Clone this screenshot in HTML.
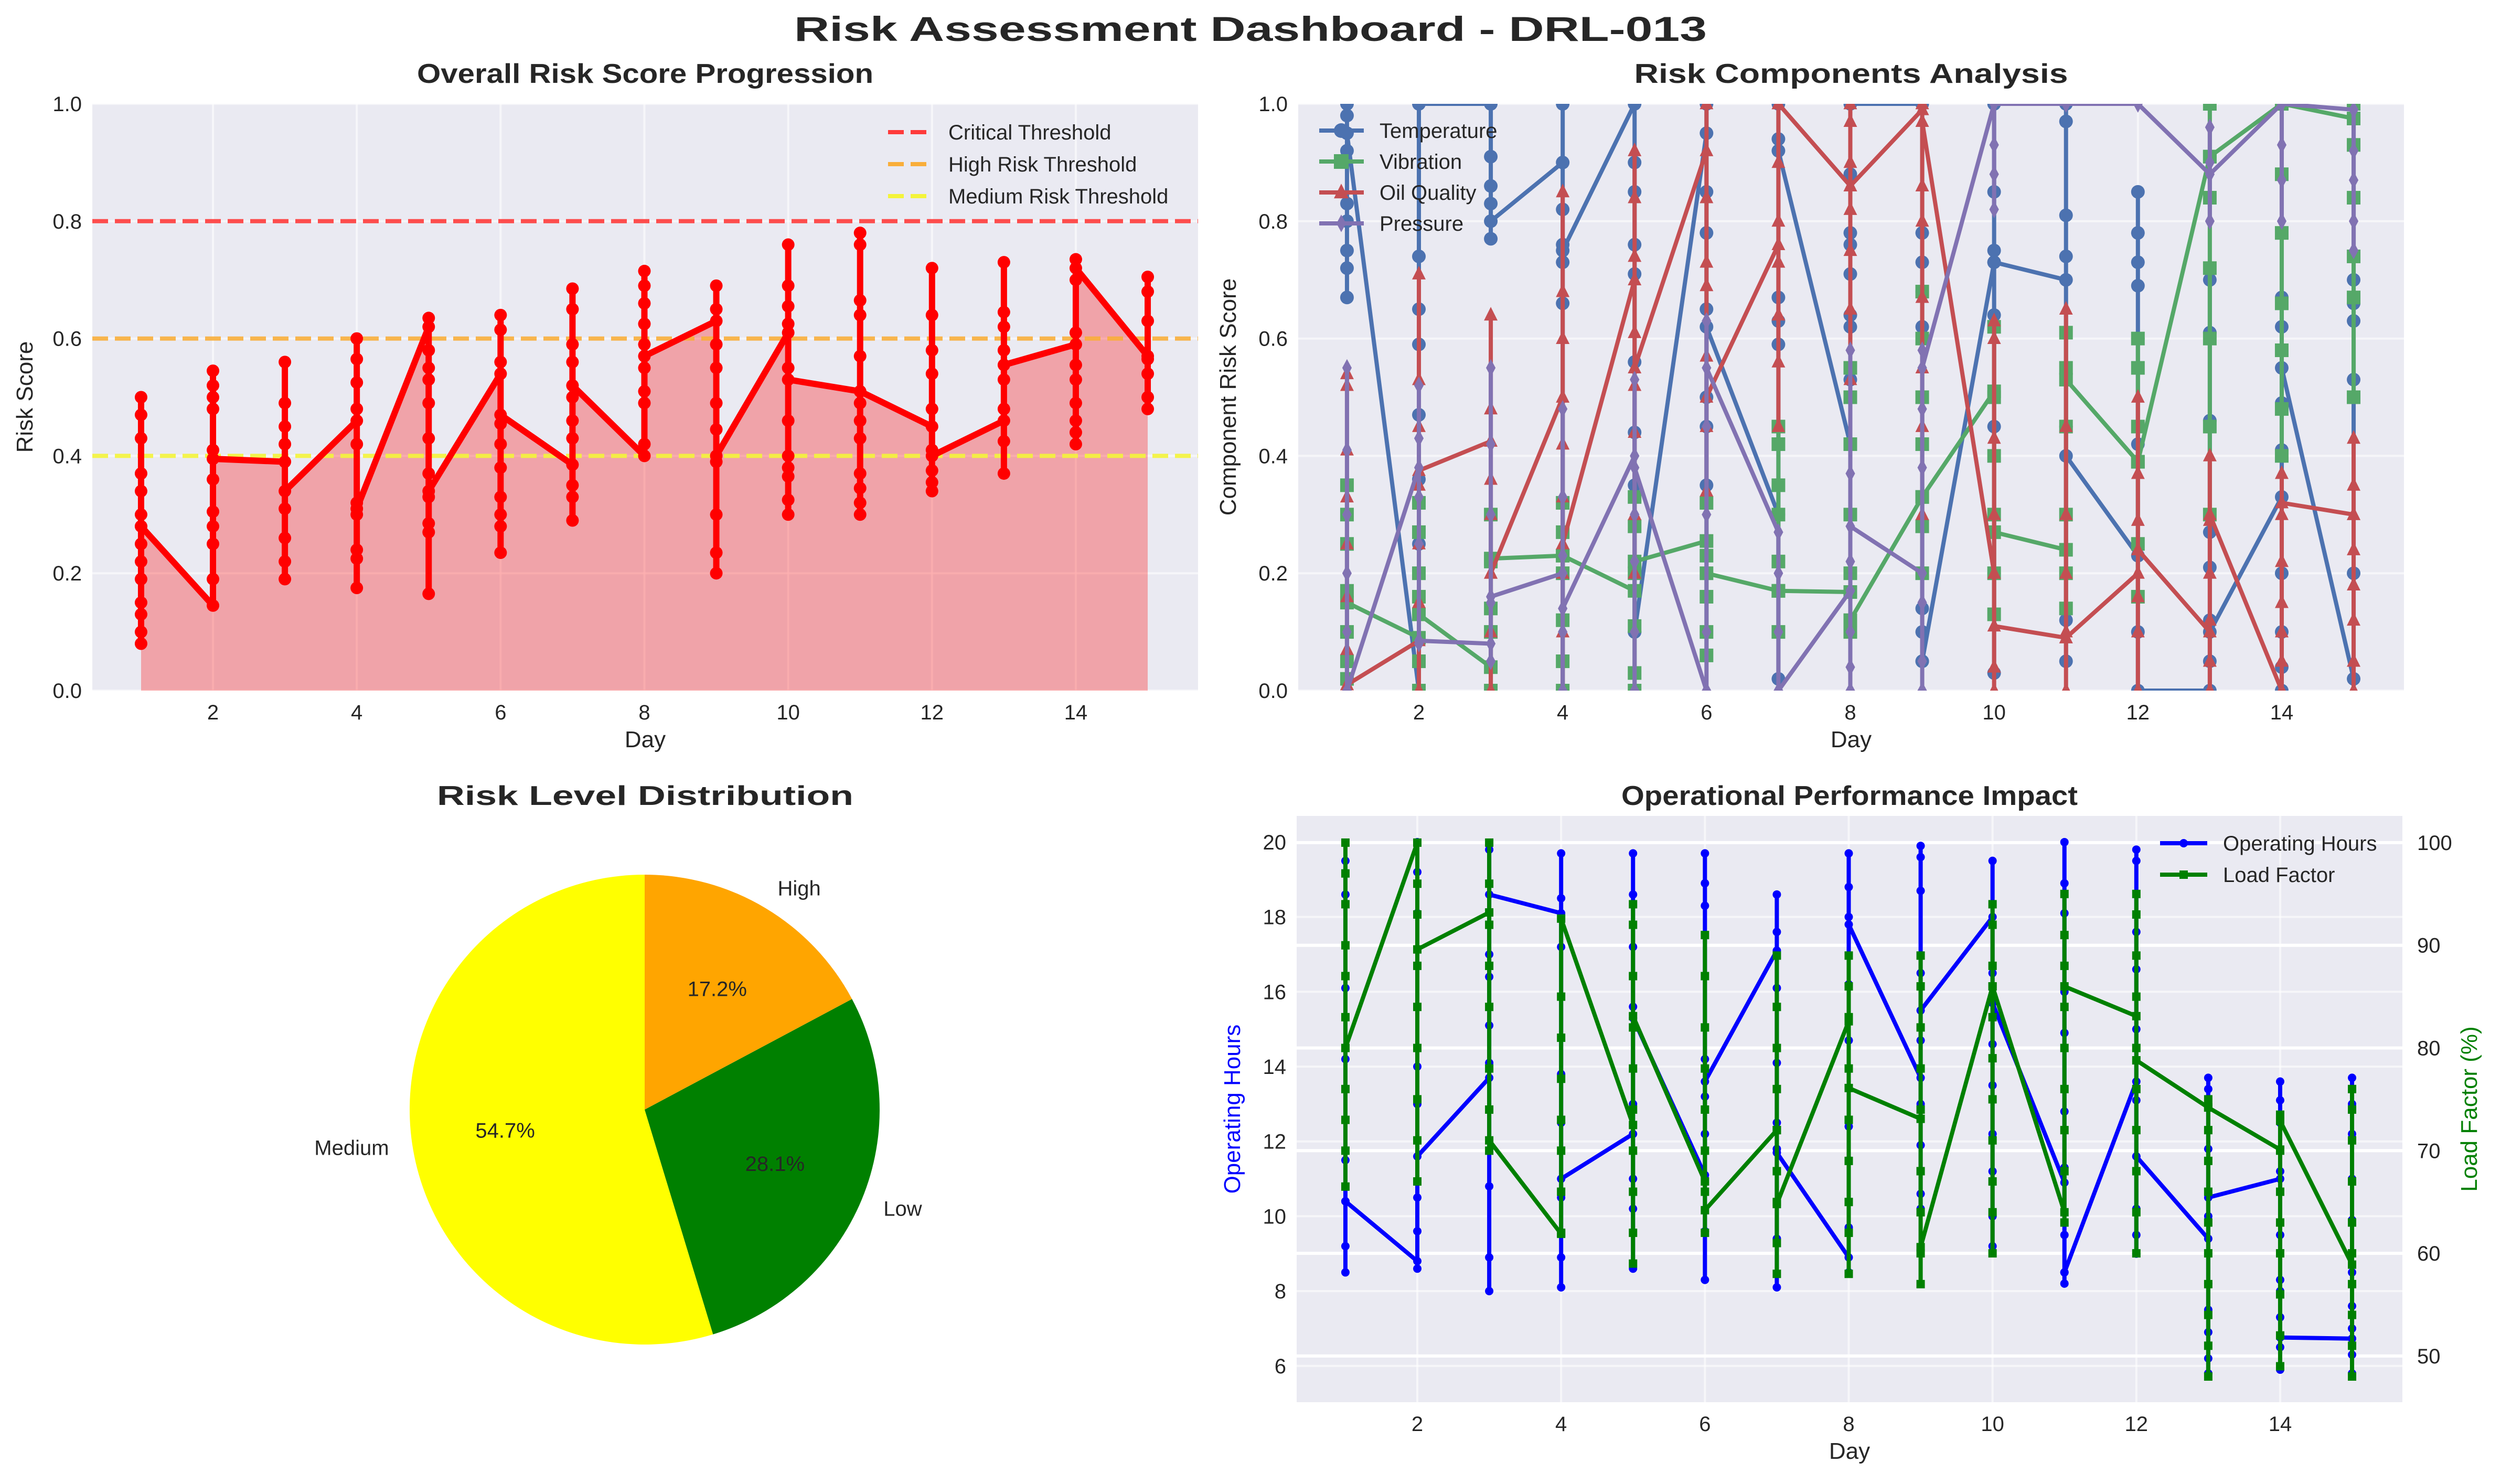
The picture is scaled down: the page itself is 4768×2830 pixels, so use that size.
<!DOCTYPE html>
<html><head><meta charset="utf-8">
<style>
html,body{margin:0;padding:0;background:#fff;}
svg{display:block;font-family:"Liberation Sans",Arial,sans-serif;}
</style></head>
<body>
<svg id="fig" width="4768" height="2830" viewBox="0 0 4768 2830" xmlns="http://www.w3.org/2000/svg">
<defs>
<clipPath id="c1"><rect x="176" y="198" width="2108" height="1119"/></clipPath>
<clipPath id="c2"><rect x="2475" y="198" width="2108" height="1119"/></clipPath>
<clipPath id="c4"><rect x="2472" y="1556" width="2108" height="1118"/></clipPath>
</defs>
<text x="2384" y="78" text-anchor="middle" font-size="66" font-weight="bold" fill="#262626" textLength="1740" lengthAdjust="spacingAndGlyphs">Risk Assessment Dashboard - DRL-013</text>
<g id="g1"></g>
<g id="g2"></g>
<g id="g3"></g>
<g id="g4"></g>
</svg>
<script>
// ---------- DATA ----------
const days = [1,2,3,4,5,6,7,8,9,10,11,12,13,14,15];
const overallRisk = [
[0.28,0.08,0.10,0.13,0.15,0.19,0.22,0.25,0.30,0.34,0.37,0.43,0.47,0.50,0.28],
[0.145,0.19,0.25,0.28,0.305,0.36,0.41,0.48,0.50,0.52,0.545,0.395],
[0.39,0.19,0.22,0.26,0.31,0.42,0.45,0.49,0.56,0.34],
[0.46,0.175,0.225,0.24,0.30,0.32,0.42,0.48,0.525,0.565,0.60,0.31],
[0.62,0.165,0.27,0.285,0.33,0.37,0.43,0.49,0.53,0.55,0.58,0.635,0.34],
[0.54,0.235,0.28,0.30,0.33,0.38,0.42,0.455,0.56,0.615,0.64,0.47],
[0.385,0.29,0.33,0.35,0.43,0.46,0.50,0.56,0.59,0.65,0.685,0.52],
[0.40,0.42,0.49,0.51,0.55,0.59,0.625,0.66,0.69,0.715,0.57],
[0.63,0.20,0.235,0.30,0.39,0.445,0.49,0.55,0.59,0.65,0.69,0.40],
[0.61,0.30,0.325,0.365,0.38,0.40,0.46,0.55,0.625,0.655,0.69,0.76,0.53],
[0.51,0.30,0.32,0.345,0.37,0.43,0.46,0.49,0.57,0.64,0.665,0.76,0.78,0.51],
[0.45,0.34,0.355,0.375,0.41,0.48,0.54,0.58,0.64,0.72,0.40],
[0.46,0.37,0.425,0.48,0.53,0.58,0.62,0.645,0.73,0.555],
[0.59,0.42,0.44,0.46,0.49,0.53,0.555,0.61,0.70,0.735,0.72],
[0.57,0.48,0.50,0.54,0.565,0.63,0.68,0.705]];
const thresholds = [0.8,0.6,0.4];
const thresholdLabels = ["Critical Threshold","High Risk Threshold","Medium Risk Threshold"];
const riskTicks = [0,0.2,0.4,0.6,0.8,1.0];
const dayTicks = [2,4,6,8,10,12,14];

const temperature = [
[0.67,0.72,0.75,0.80,0.83,0.92,0.98,1.0,0.95],[0.0,0.25,0.36,0.47,0.59,0.65,0.74,1.0],
[1.0,0.77,0.83,0.86,0.91,0.80],[0.9,0.0,0.66,0.73,0.76,0.82,1.0,0.75],
[1.0,0.10,0.35,0.44,0.56,0.71,0.76,0.85,0.9,0.1],[0.95,0.35,0.45,0.5,0.65,0.78,0.85,1.0,0.62],
[0.3,0.02,0.59,0.63,0.67,0.94,1.0,0.92],[0.42,0.53,0.62,0.64,0.71,0.76,0.78,0.88,1.0],
[1.0,0.05,0.1,0.14,0.62,0.68,0.73,0.78,0.05],[0.73,0.03,0.2,0.45,0.64,0.75,0.85,1.0,0.73],
[0.70,0.05,0.12,0.45,0.74,0.81,0.97,1.0,0.40],[0.23,0.1,0.42,0.6,0.69,0.73,0.78,0.85,0.0],
[0.0,0.05,0.12,0.21,0.27,0.46,0.61,0.70,0.10],[0.33,0.0,0.04,0.1,0.2,0.41,0.49,0.62,0.67,0.55],
[0.02,0.2,0.53,0.63,0.66,0.70,1.0]];
const vibration = [
[0.02,0.05,0.1,0.17,0.25,0.3,0.35,0.15],[0.09,0.0,0.05,0.16,0.2,0.27,0.32,0.13],
[0.04,0.0,0.1,0.14,0.22,0.3,0.225],[0.23,0.0,0.05,0.12,0.2,0.27,0.32,0.23],
[0.17,0.0,0.03,0.11,0.2,0.28,0.33,0.22],[0.255,0.06,0.1,0.16,0.23,0.32,0.20],
[0.17,0.1,0.22,0.3,0.35,0.42,0.45,0.17],[0.168,0.1,0.2,0.3,0.42,0.5,0.55,0.12],
[0.33,0.2,0.28,0.42,0.5,0.6,0.68,0.33],[0.51,0.13,0.2,0.3,0.4,0.5,0.62,0.27],
[0.24,0.14,0.2,0.3,0.45,0.55,0.61,0.53],[0.39,0.16,0.25,0.45,0.55,0.6,0.39],
[0.91,0.3,0.45,0.6,0.72,0.84,1.0,0.91],[1.0,0.4,0.48,0.58,0.66,0.78,0.88,1.0],
[0.975,0.5,0.67,0.74,0.84,0.93,1.0]];
const oilQuality = [
[0.01,0.07,0.16,0.25,0.33,0.41,0.52,0.54,0.01],[0.085,0.0,0.15,0.25,0.35,0.45,0.53,0.71,0.375],
[0.425,0.0,0.1,0.2,0.3,0.36,0.48,0.64,0.2],[0.5,0.0,0.1,0.2,0.33,0.42,0.6,0.68,0.85,0.25],
[0.7,0.2,0.3,0.44,0.52,0.61,0.74,0.84,0.92,0.55],[0.92,0.34,0.45,0.57,0.69,0.73,0.84,1.0,0.5],
[0.76,0.45,0.56,0.64,0.73,0.8,0.9,1.0],[0.86,0.53,0.65,0.75,0.82,0.9,0.97,1.0,0.86],
[0.99,0.3,0.45,0.55,0.67,0.8,0.86,1.0,0.97],[0.2,0.0,0.04,0.2,0.3,0.43,0.6,0.63,0.11],
[0.09,0.0,0.1,0.2,0.3,0.45,0.65,0.09],[0.2,0.0,0.1,0.16,0.29,0.37,0.5,0.24],
[0.1,0.0,0.05,0.12,0.2,0.29,0.4,0.3],[0.0,0.05,0.1,0.15,0.22,0.3,0.37,0.32],
[0.3,0.0,0.05,0.12,0.18,0.24,0.35,0.43,0.3]];
const pressure = [
[0.0,0.1,0.2,0.3,0.41,0.55,0.0],[0.38,0.08,0.25,0.33,0.43,0.52,0.085],
[0.08,0.05,0.15,0.3,0.42,0.55,0.16],[0.2,0.0,0.1,0.23,0.33,0.48,0.14],
[0.4,0.0,0.1,0.22,0.3,0.53,0.38],[0.0,0.1,0.3,0.45,0.63,0.55],
[0.27,0.0,0.1,0.2,0.27,0.0],[0.17,0.0,0.04,0.1,0.22,0.37,0.58,0.28],
[0.2,0.0,0.05,0.15,0.38,0.48,0.58,0.55],[1.0,0.82,0.88,0.93,1.0],
[1.0,1.0],[1.0,1.0],[0.88,0.8,0.9,0.96,0.88],[1.0,0.8,0.87,0.93,1.0],
[0.99,0.75,0.8,0.87,0.92,0.99]];
const componentNames = ["Temperature","Vibration","Oil Quality","Pressure"];

const pieLabels = ["Medium","Low","High"];
const pieValues = [54.7,28.1,17.2];

const operatingHours = [
[10.4,8.5,9.2,11.5,14.2,16.1,18.6,19.5,10.4],[8.8,8.6,9.6,10.5,13.0,14.0,16.7,18.1,19.2,20.0,11.6],
[13.7,8.0,8.9,10.8,14.1,15.1,16.4,17.0,19.8,18.6],[18.1,8.1,8.9,10.5,12.5,13.8,17.2,18.5,19.7,11.0],
[12.2,8.6,10.2,11.0,13.0,15.6,17.2,18.6,19.7,15.3],[11.1,8.3,9.6,12.2,13.2,14.2,18.3,18.9,19.7,13.6],
[17.1,8.1,9.4,11.8,12.5,14.1,16.1,17.6,18.6,11.7],[8.9,8.5,9.7,11.5,12.4,14.7,16.2,18.0,18.8,19.7,17.8],
[13.7,10.2,10.6,11.9,13.0,14.7,16.5,18.7,19.6,19.9,15.5],[18.0,9.2,10.0,11.2,12.2,13.5,14.6,15.7,16.5,19.5,15.7],
[10.9,8.2,8.5,9.5,11.3,12.8,14.9,16.0,18.1,18.9,20.0,8.5],[13.6,9.0,9.5,10.2,11.6,13.1,15.0,16.6,17.6,19.5,19.8,11.6],
[9.4,5.8,6.2,6.9,7.5,8.2,9.0,10.0,11.8,13.4,13.7,10.5],[11.0,5.9,6.5,7.3,8.0,8.3,9.5,11.2,12.5,13.1,13.6,6.76],
[6.73,5.8,6.3,7.0,7.6,8.5,9.9,11.0,12.2,13.0,13.7]];
const loadFactor = [
[80,66.5,70,73,76,83,87,90,94,97,100,80],[100,67,71,75,80,84,88,93,96,89.6],
[93.2,70,74,78,84,88,92,96,100,71.0],[61.9,62,66,70,73,77,81,85,92.6],
[72.5,59,62,66,70,74,78,82,87,92,94,83.1],[67,62,66,70,74,78,82,87,91,64.2],
[72,58,61,65,68,72,76,80,84,89,64.8],[82.6,58,62,65,69,73,78,83,86,89,76.1],
[73.1,57,60,64,68,74,78,82,86,89,60.6],[86,60,64,67,71,75,79,83,88,92,94,86],
[64,63,68,72,76,80,84,88,91,95,86],[83.1,60,64,68,72,76,80,85,89,93,95,78.8],
[74.2,48,51,54,57,60,63,66,69,72,75,74.2],[70.1,49,52,56,60,63,66,70,73.5,72.9],
[58.9,48,51,54,57,60,63,67,71,74,76]];
const hoursTicks = [6,8,10,12,14,16,18,20];
const loadTicks = [50,60,70,80,90,100];

// ---------- HELPERS ----------
const NS="http://www.w3.org/2000/svg";
function mk(parent,tag,attrs,txt){const e=document.createElementNS(NS,tag);for(const k in attrs)e.setAttribute(k,attrs[k]);if(txt!==undefined)e.textContent=txt;parent.appendChild(e);return e;}
function scaleX(p,d){return p.x0+(d-p.xmin)/(p.xmax-p.xmin)*(p.x1-p.x0);}
function scaleY(p,v,lo,hi){return p.y1-(v-lo)/(hi-lo)*(p.y1-p.y0);}
const TXT="#262626";

function axesFrame(g,p,yTicks,lo,hi,fmt,clip){
  const bg=mk(g,'rect',{x:p.x0,y:p.y0,width:p.x1-p.x0,height:p.y1-p.y0,fill:'#eaeaf2'});
  
  
  dayTicks.forEach(d=>{const x=scaleX(p,d);
    mk(g,'line',{x1:x,x2:x,y1:p.y0,y2:p.y1,stroke:'#fff','stroke-width':4,opacity:0.6});
    const t=mk(g,'text',{x:x,y:p.y1+55,'text-anchor':'middle','font-size':40,fill:TXT},String(d));
    
    });
  yTicks.forEach(v=>{const y=scaleY(p,v,lo,hi);
    mk(g,'line',{x1:p.x0,x2:p.x1,y1:y,y2:y,stroke:'#fff','stroke-width':4,opacity:0.6});
    const t=mk(g,'text',{x:p.x0-20,y:y+14,'text-anchor':'end','font-size':40,fill:TXT},fmt(v));
    
    });
}
function flatten(p,series,lo,hi){const pts=[];series.forEach((arr,i)=>{const x=scaleX(p,days[i]);arr.forEach(v=>pts.push([x,scaleY(p,v,lo,hi)]));});return pts;}
function drawSeries(g,p,series,lo,hi,color,lw,marker,ms,name){
  const pts=flatten(p,series,lo,hi);
  const sg=mk(g,'g',{});
  
  
  mk(sg,'polyline',{points:pts.map(q=>q.join(',')).join(' '),fill:'none',stroke:color,'stroke-width':lw,'stroke-linejoin':'round'});
  pts.forEach(q=>drawMarker(sg,q[0],q[1],marker,ms,color));
  return pts;
}
function drawMarker(g,x,y,m,s,c){
  if(m==='o')mk(g,'circle',{cx:x,cy:y,r:s,fill:c});
  else if(m==='s')mk(g,'rect',{x:x-s,y:y-s,width:2*s,height:2*s,fill:c});
  else if(m==='^')mk(g,'polygon',{points:`${x},${y-s*1.2} ${x-s},${y+s*0.8} ${x+s},${y+s*0.8}`,fill:c});
  else if(m==='d')mk(g,'polygon',{points:`${x},${y-s*1.2} ${x-s*0.65},${y} ${x},${y+s*1.2} ${x+s*0.65},${y}`,fill:c});
}
function title(g,x,y,t,len){const e=mk(g,'text',{x:x,y:y,'text-anchor':'middle','font-size':52,'font-weight':'bold',fill:TXT,textLength:len,lengthAdjust:'spacingAndGlyphs'},t);
  
  }
function label(g,x,y,t,rot,color,name){const e=mk(g,'text',{x:x,y:y,'text-anchor':'middle','font-size':44,fill:color||TXT,transform:rot?`rotate(${rot} ${x} ${y})`:''},t);
  
  }

// ---------- PANEL 1 ----------
(function(){
  const g=document.getElementById('g1');
  const p={x0:176,x1:2284,y0:198,y1:1317,xmin:0.322,xmax:15.70};
  axesFrame(g,p,riskTicks,0,1,v=>v.toFixed(1));
  const cg=mk(g,'g',{'clip-path':'url(#c1)'});
  const pts=flatten(p,overallRisk,0,1);
  const fillPts=pts.concat([[scaleX(p,15),p.y1],[scaleX(p,1),p.y1]]);
  const f=mk(cg,'polygon',{points:fillPts.map(q=>q.join(',')).join(' '),fill:'#ff0000','fill-opacity':0.3});
  
  
  const tc=['#ff3b3b','#f9ae3a','#f4f43a'];
  thresholds.forEach((v,i)=>{const y=scaleY(p,v,0,1);
    const l=mk(cg,'line',{x1:p.x0,x2:p.x1,y1:y,y2:y,stroke:tc[i],'stroke-width':8,'stroke-dasharray':'30,13',opacity:0.9});
    
    });
  drawSeries(cg,p,overallRisk,0,1,'#ff0000',12,'o',12,'overall-risk-line');
  thresholdLabels.forEach((t,i)=>{const y=252+i*61;
    const lg=mk(g,'g',{});
    
    
    mk(lg,'line',{x1:1693,x2:1777,y1:y,y2:y,stroke:tc[i],'stroke-width':8,'stroke-dasharray':'30,13'});
    mk(lg,'text',{x:1808,y:y+14,'font-size':40,fill:TXT},t);});
  title(g,1230,158,'Overall Risk Score Progression',870);
  label(g,1230,1425,'Day',0,null,'x-axis-title');
  label(g,62,757,'Risk Score',-90,null,'y-axis-title');
})();

// ---------- PANEL 2 ----------
(function(){
  const g=document.getElementById('g2');
  const p={x0:2475,x1:4583,y0:198,y1:1317,xmin:0.322,xmax:15.70};
  axesFrame(g,p,riskTicks,0,1,v=>v.toFixed(1));
  const cg=mk(g,'g',{'clip-path':'url(#c2)'});
  const cols=['#4c72b0','#55a868','#c44e52','#8172b2'];
  const mks=['o','s','^','d'];
  const sizes=[13,13,13,14];
  [temperature,vibration,oilQuality,pressure].forEach((s,i)=>drawSeries(cg,p,s,0,1,cols[i],8,mks[i],sizes[i],'component-'+componentNames[i].toLowerCase().replace(' ','-')));
  componentNames.forEach((t,i)=>{const y=249+i*59;
    const lg=mk(g,'g',{});
    
    
    mk(lg,'line',{x1:2515,x2:2600,y1:y,y2:y,stroke:cols[i],'stroke-width':8});
    drawMarker(lg,2557,y,mks[i],14,cols[i]);
    mk(lg,'text',{x:2630,y:y+14,'font-size':40,fill:TXT},t);});
  title(g,3529,158,'Risk Components Analysis',827);
  label(g,3529,1425,'Day',0,null,'x-axis-title');
  label(g,2356,757,'Component Risk Score',-90,null,'y-axis-title');
})();

// ---------- PANEL 3 (pie) ----------
(function(){
  const g=document.getElementById('g3');
  const cx=1229,cy=2116,r=448;
  const cols=['#ffff00','#008000','#ffa500'];
  const total=pieValues.reduce((a,b)=>a+b,0);
  let a0=90;
  pieValues.forEach((v,i)=>{
    const a1=a0+v/total*360;
    const rad=x=>x*Math.PI/180;
    const x0=cx+r*Math.cos(rad(a0)),y0=cy-r*Math.sin(rad(a0));
    const x1=cx+r*Math.cos(rad(a1)),y1=cy-r*Math.sin(rad(a1));
    const large=(a1-a0)>180?1:0;
    const s=mk(g,'path',{d:`M${cx},${cy} L${x0},${y0} A${r},${r} 0 ${large} 0 ${x1},${y1} Z`,fill:cols[i]});
    
    
    const am=rad((a0+a1)/2);
    const lx=cx+1.1*r*Math.cos(am),ly=cy-1.1*r*Math.sin(am);
    const t=mk(g,'text',{x:lx,y:ly+14,'text-anchor':Math.cos(am)<0?'end':'start','font-size':40,fill:TXT},pieLabels[i]);
    
    
    const px=cx+0.6*r*Math.cos(am),py=cy-0.6*r*Math.sin(am);
    const pt=mk(g,'text',{x:px,y:py+14,'text-anchor':'middle','font-size':40,fill:TXT},v.toFixed(1)+'%');
    
    
    a0=a1;});
  title(g,1230,1535,'Risk Level Distribution',794);
})();

// ---------- PANEL 4 ----------
(function(){
  const g=document.getElementById('g4');
  const p={x0:2472,x1:4580,y0:1556,y1:2674,xmin:0.322,xmax:15.70};
  const hLo=5.03,hHi=20.70,lLo=45.5,lHi=102.6;
  axesFrame(g,p,hoursTicks,hLo,hHi,v=>String(v));
  loadTicks.forEach(v=>{const y=scaleY(p,v,lLo,lHi);
    mk(g,'line',{x1:p.x0,x2:p.x1,y1:y,y2:y,stroke:'#fff','stroke-width':6});
    const t=mk(g,'text',{x:p.x1+28,y:y+14,'font-size':40,fill:TXT},String(v));
    
    });
  const cg=mk(g,'g',{'clip-path':'url(#c4)'});
  drawSeries(cg,p,operatingHours,hLo,hHi,'#0000ff',8,'o',8,'operating-hours-line');
  drawSeries(cg,p,loadFactor,lLo,lHi,'#008000',8,'s',8,'load-factor-line');
  const items=[['Operating Hours','#0000ff','o'],['Load Factor','#008000','s']];
  items.forEach((it,i)=>{const y=1608+i*60;
    const lg=mk(g,'g',{});
    
    
    mk(lg,'line',{x1:4118,x2:4208,y1:y,y2:y,stroke:it[1],'stroke-width':8});
    drawMarker(lg,4163,y,it[2],8,it[1]);
    mk(lg,'text',{x:4238,y:y+14,'font-size':40,fill:TXT},it[0]);});
  title(g,3526,1535,'Operational Performance Impact',870);
  label(g,3526,2782,'Day',0,null,'x-axis-title');
  label(g,2364,2115,'Operating Hours',-90,'#0000ff','y-axis-title-left');
  label(g,4722,2115,'Load Factor (%)',-90,'#008000','y-axis-title-right');
})();
</script>
</body></html>
